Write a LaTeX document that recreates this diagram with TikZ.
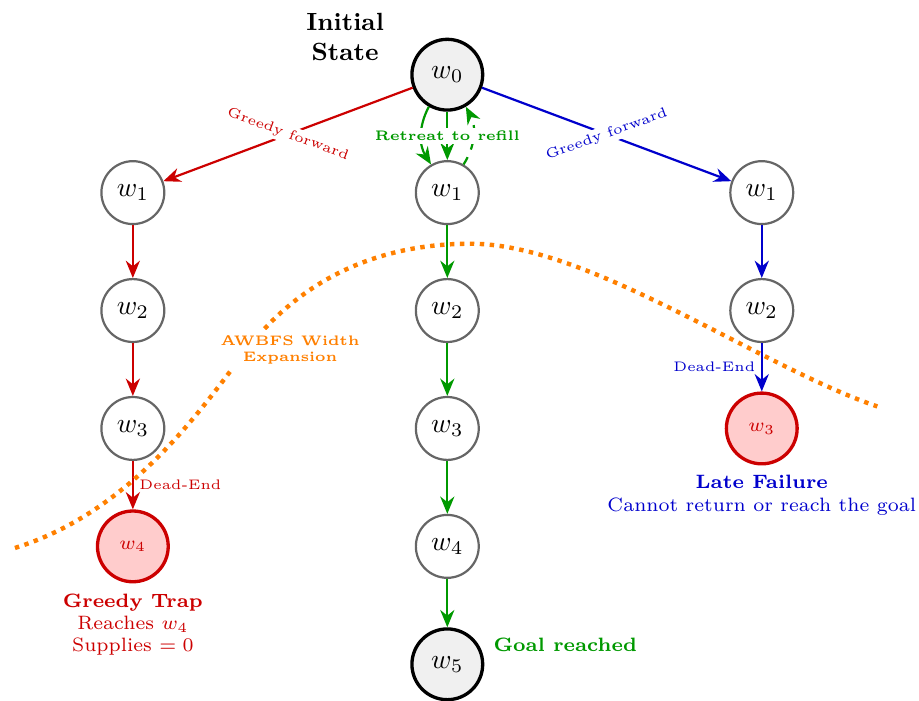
\documentclass[tikz,border=0pt]{standalone}
\usetikzlibrary{positioning,arrows.meta}

\begin{document}
\begin{tikzpicture}[
  node distance=1.5cm and 4cm, on grid,
  state/.style={circle, draw=black!60, thick, fill=white,
                minimum size=8mm, inner sep=0pt},
  endst/.style={state, draw=black, very thick, fill=gray!12, minimum size=9mm},
  trap/.style={state, draw=red!80!black, very thick, fill=red!20,
               text=red!80!black, minimum size=9mm, font=\scriptsize},
  arr/.style={-{Stealth[length=2.2mm, width=1.8mm]}, thick},
  lbl/.style={font=\tiny, fill=white, inner sep=1pt},
  note/.style={font=\scriptsize, align=center, inner sep=1pt},
  wave/.style={orange, ultra thick, dotted}
]
\useasboundingbox (-5.69,-7.96) rectangle (6.0,0.95);
\node[endst] (w0) {$w_0$};
\node[note, font=\small\bfseries, above left=0.48cm and 1.3cm of w0] (init)
  {Initial\\ State};
\node[state, below left=of w0] (lw1) {$w_1$};
\node[state, below=of lw1] (lw2) {$w_2$};
\node[state, below=of lw2] (lw3) {$w_3$};
\node[trap, below=of lw3] (lw4) {$w_4$};
\node[state, below=of w0] (mw1) {$w_1$};
\node[state, below=of mw1] (mw2) {$w_2$};
\node[state, below=of mw2] (mw3) {$w_3$};
\node[state, below=of mw3] (mw4) {$w_4$};
\node[endst, below=of mw4] (mw5) {$w_5$};
\node[state, below right=of w0] (rw1) {$w_1$};
\node[state, below=of rw1] (rw2) {$w_2$};
\node[trap, below=of rw2] (rw3) {$w_3$};
\node[note, text=red!80!black, below=1cm of lw4] (trapnote)
  {\textbf{Greedy Trap}\\ Reaches $w_4$\\ Supplies $= 0$};
\node[note, text=blue!80!black, below=0.85cm of rw3] (latenote)
  {\textbf{Late Failure}\\ Cannot return or reach the goal};
\node[note, text=green!60!black, font=\scriptsize\bfseries,
      above right=0.25cm and 1.5cm of mw5] (goalnote) {Goal reached};
\draw[arr, red!80!black] (w0) -- node[lbl, rotate=-20] (gfl) {Greedy forward} (lw1);
\draw[arr, red!80!black] (lw1) -- (lw2);
\draw[arr, red!80!black] (lw2) -- (lw3);
\draw[arr, red!80!black] (lw3) -- node[right, font=\tiny, inner sep=2pt] (del) {Dead-End} (lw4);
\draw[arr, blue!80!black] (w0) -- node[lbl, rotate=20] (gfr) {Greedy forward} (rw1);
\draw[arr, blue!80!black] (rw1) -- (rw2);
\draw[arr, blue!80!black] (rw2) -- node[left, font=\tiny, inner sep=2pt] (der) {Dead-End} (rw3);
\draw[arr, green!60!black] (w0) to[bend right=30] (mw1);
\draw[arr, green!60!black, dashed] (mw1) to[bend right=30] (w0);
\draw[arr, green!60!black] (w0) -- node[lbl, font=\tiny\bfseries] (ret) {Retreat to refill} (mw1);
\draw[arr, green!60!black] (mw1) -- (mw2);
\draw[arr, green!60!black] (mw2) -- (mw3);
\draw[arr, green!60!black] (mw3) -- (mw4);
\draw[arr, green!60!black] (mw4) -- (mw5);
\draw[wave] (-5.5,-6.02) .. controls (-4.0,-5.555) and (-3.1,-4.21) .. (-2.57,-3.52)
  .. controls (-1.67,-2.35) and (-0.5,-2.15) .. (0.3,-2.15)
  .. controls (1.8,-2.15) and (3.97,-3.71) .. (5.47,-4.22);
\node[lbl, text=orange, font=\tiny\bfseries, align=center, inner sep=2pt] (awbfs)
  at (-2,-3.5) {AWBFS Width\\ Expansion};
\end{tikzpicture}
\end{document}
